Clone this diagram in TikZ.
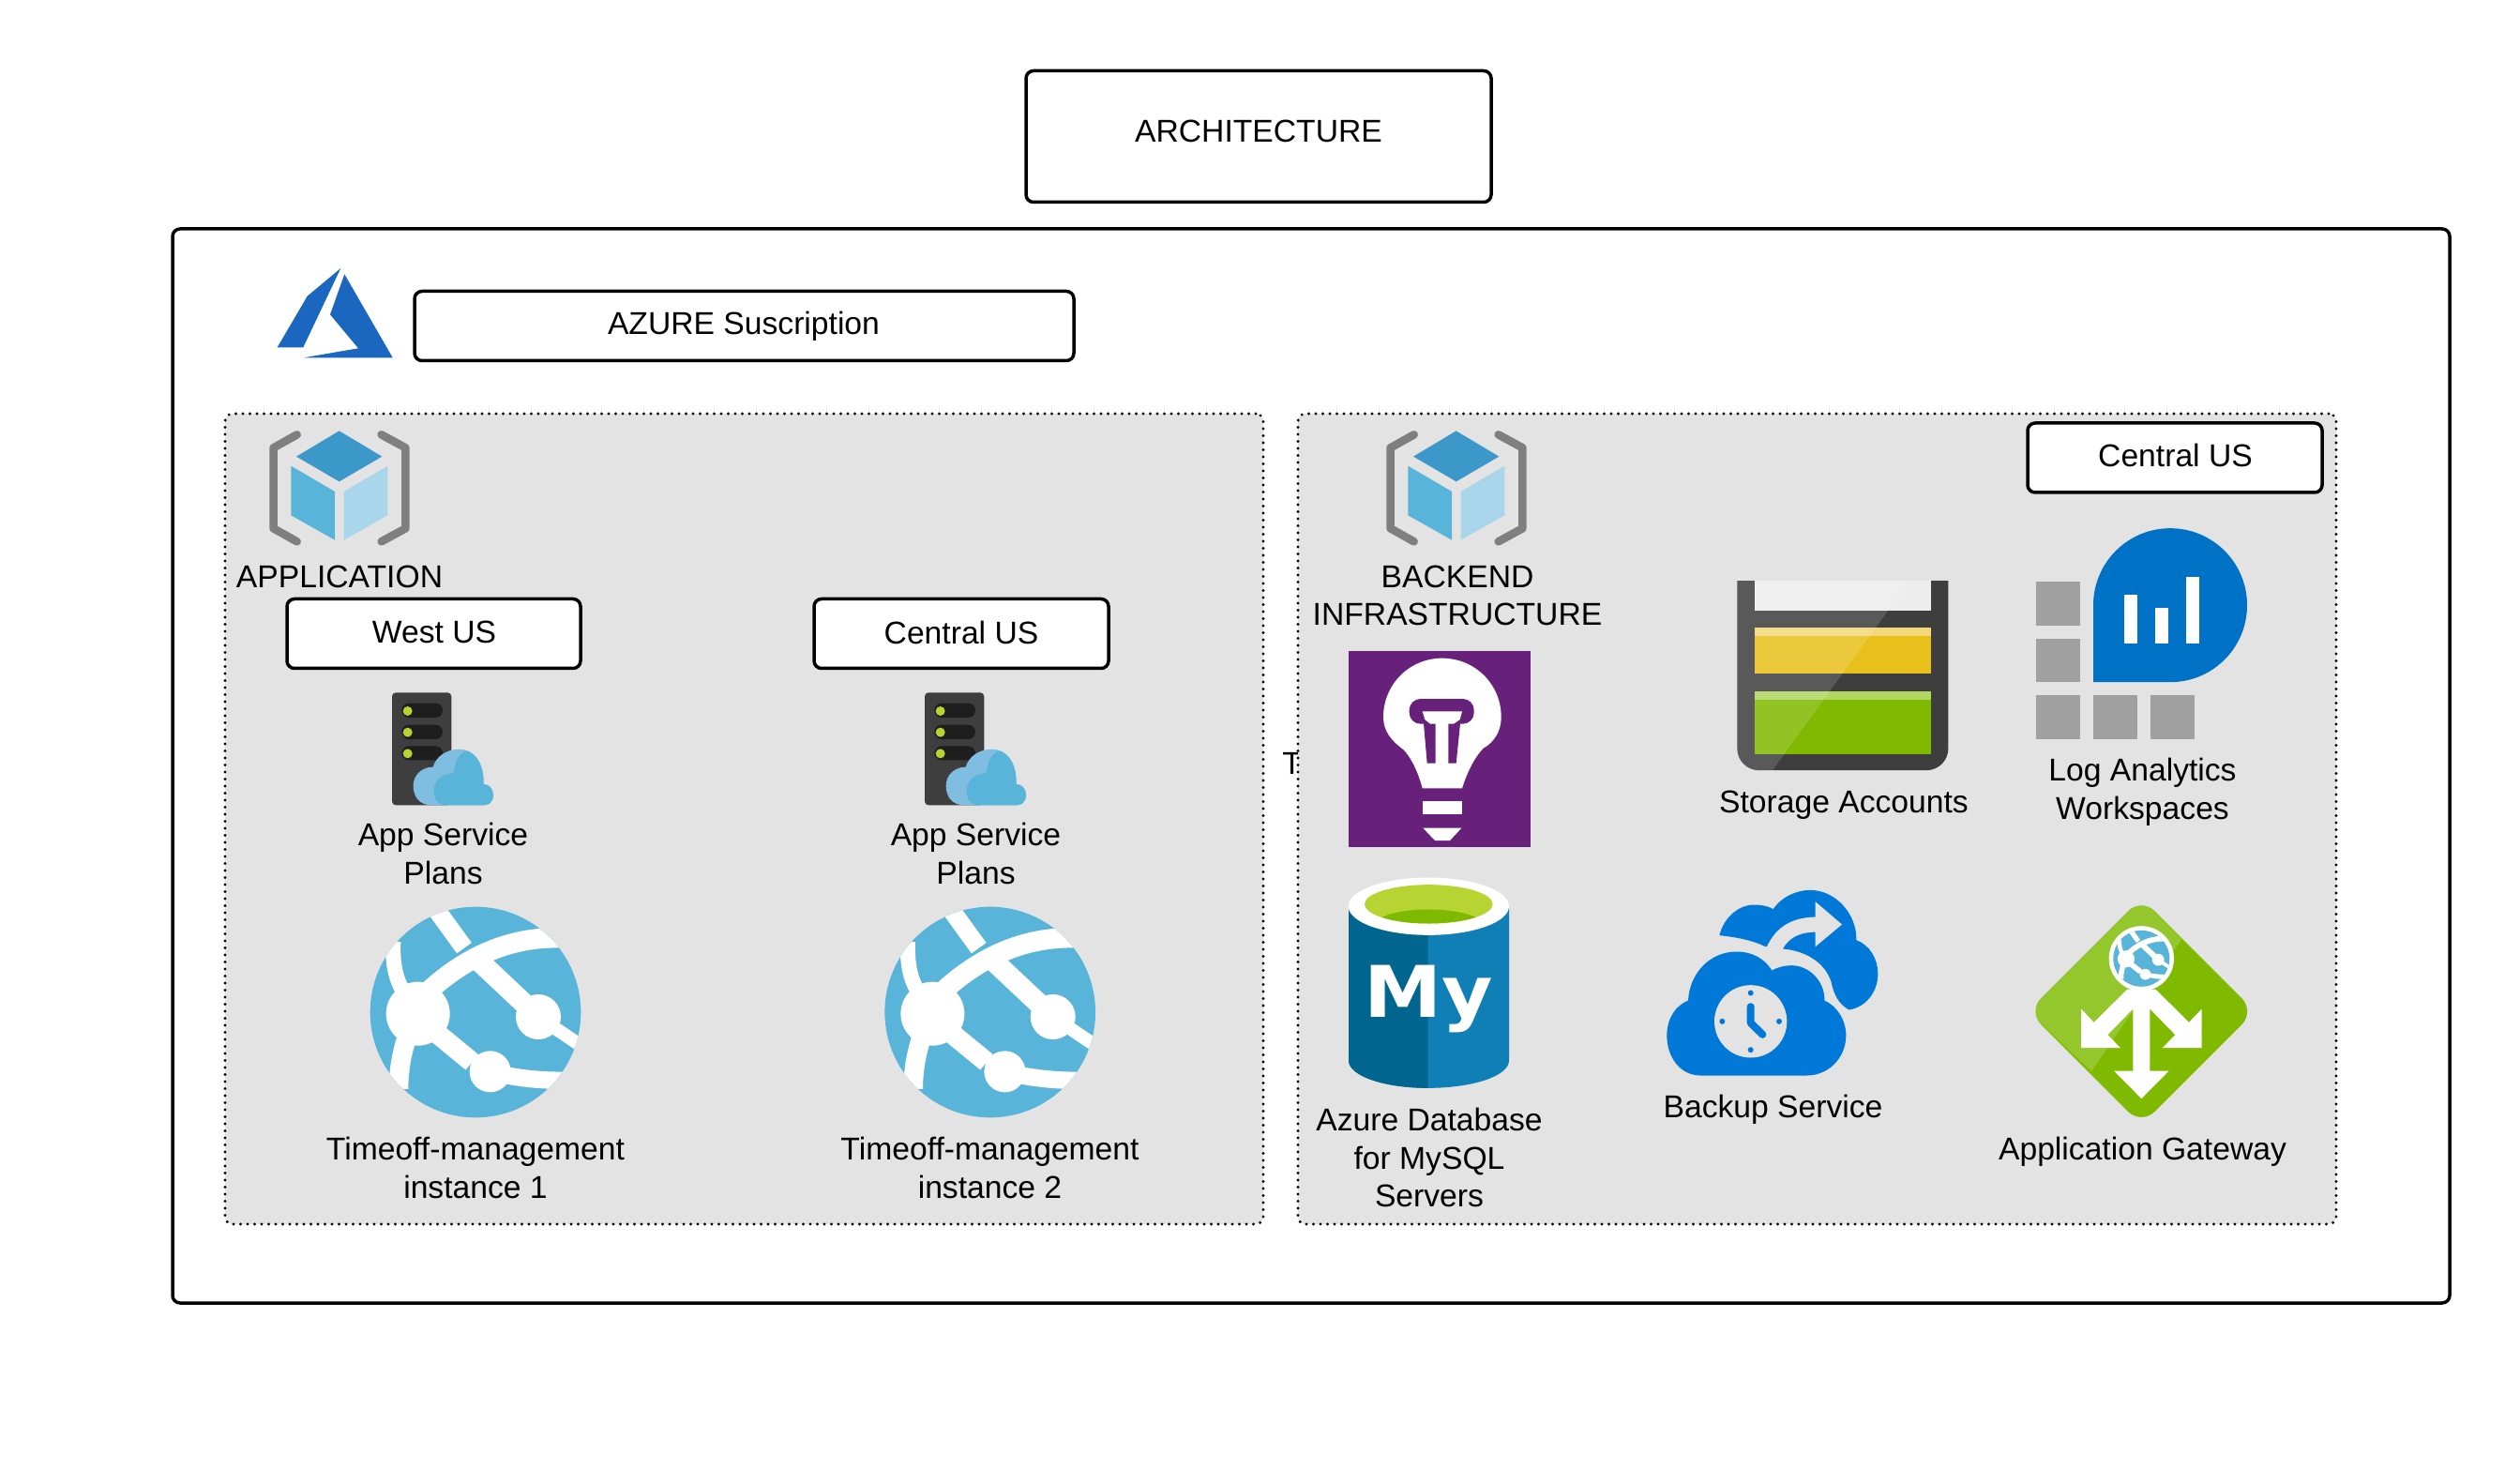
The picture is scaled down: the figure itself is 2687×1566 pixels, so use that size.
\documentclass[tikz,border=0pt]{standalone}
\usepackage{fontspec}
\setmainfont{Liberation Sans}
\newfontfamily\iconfont[FakeStretch=1.1]{DejaVu Sans}
\definecolor{panelgray}{HTML}{E3E3E3}
\definecolor{azblue}{HTML}{1B66BE}
\definecolor{brack}{HTML}{7F7F7F}
\definecolor{cubetop}{HTML}{3C98C8}
\definecolor{cubeleft}{HTML}{59B4D9}
\definecolor{cuberight}{HTML}{A9D6EB}
\definecolor{srv}{HTML}{3E3E3E}
\definecolor{srvslot}{HTML}{1E1E1E}
\definecolor{lime}{HTML}{B8D432}
\definecolor{cloudlight}{HTML}{7FBEE0}
\definecolor{purplebg}{HTML}{68217A}
\definecolor{stgyellow}{HTML}{E8C01C}
\definecolor{stgyellowl}{HTML}{F3D878}
\definecolor{stggreen}{HTML}{7FBA00}
\definecolor{stggreenl}{HTML}{B0D860}
\definecolor{stgwhite}{HTML}{EDEDED}
\definecolor{loggray}{HTML}{A0A0A0}
\definecolor{logblue}{HTML}{0072C6}
\definecolor{mydark}{HTML}{00658F}
\definecolor{myright}{HTML}{0F7FB5}
\definecolor{bkblue}{HTML}{0078D7}
\definecolor{gwlight}{HTML}{94C72C}
\tikzset{
  txt/.style={font=\fontsize{16.83}{20.3}\selectfont, align=center, inner sep=0pt, text=black},
  labelbox/.style={draw=black, line width=1.75pt, rounded corners=4pt, fill=white, outer sep=0pt},
  panel/.style={draw=black, fill=panelgray, line width=1.6pt, line cap=round, dash pattern=on 0pt off 3.75pt, rounded corners=4pt, outer sep=0pt},
  zoomunits/.style={x=0.16667pt,y=-0.16667pt}
}
\newcommand{\ContainerIcon}[2]{%
\begin{scope}[shift={(#1,#2)},zoomunits]
  \draw[brack,line width=4.3pt,line cap=round,line join=round] (410,700) -- (335,742) -- (335,1000) -- (410,1042);
  \draw[brack,line width=4.3pt,line cap=round,line join=round] (680,700) -- (757,742) -- (757,1000) -- (680,1042);
  \fill[cubetop] (545,688) -- (682,770) -- (545,850) -- (408,770) -- cycle;
  \fill[cubeleft] (391,800) -- (531,882) -- (531,1037) -- (391,958) -- cycle;
  \fill[cuberight] (560,882) -- (700,800) -- (700,958) -- (560,1037) -- cycle;
\end{scope}}
\newcommand{\PlanIcon}[2]{%
\begin{scope}[shift={(#1,#2)},zoomunits]
  \fill[srv,rounded corners=2pt] (174,52) rectangle (364,412);
  \fill[srvslot,rounded corners=3.8pt] (205,86) rectangle (336,132);
  \fill[srvslot,rounded corners=3.8pt] (205,155) rectangle (336,201);
  \fill[srvslot,rounded corners=3.8pt] (205,223) rectangle (336,268);
  \fill[lime] (224,111) circle (15);
  \fill[lime] (224,179) circle (15);
  \fill[lime] (224,247) circle (15);
  \fill[cloudlight] (300,412) .. controls (262,412) and (242,385) .. (242,350) .. controls (242,315) and (270,290) .. (305,290) .. controls (315,255) and (350,233) .. (390,233) .. controls (435,233) and (468,275) .. (467,345) .. controls (485,345) and (498,360) .. (498,380) .. controls (498,398) and (485,412) .. (470,412) -- cycle;
  \fill[cubeleft] (345,412) .. controls (320,412) and (308,390) .. (308,368) .. controls (308,330) and (340,308) .. (372,310) .. controls (372,280) and (385,250) .. (410,238) .. controls (445,245) and (468,285) .. (467,345) .. controls (485,345) and (498,360) .. (498,380) .. controls (498,398) and (485,412) .. (470,412) -- cycle;
\end{scope}}
% #1,#2 centre in picture pixels, #3 unit length
\newcommand{\GlobeIcon}[3]{%
\begin{scope}[shift={(#1,#2)},x=#3,y=-#3,shift={(-441,-1075)}]
  \fill[cubeleft] (441,1075) circle (337);
  \begin{scope}
    \clip (441,1075) circle (337);
    \draw[white,line width=#3*58] (318,750) -- (405,870);
    \draw[white,line width=#3*66] (440,900) -- (642,1090);
    \draw[white,line width=#3*42] (642,1090) -- (790,1190);
    \draw[white,line width=#3*64] (730,838) .. controls (570,830) and (410,885) .. (257,1040);
    \draw[white,line width=#3*48] (178,850) .. controls (175,920) and (185,980) .. (225,1030);
    \draw[white,line width=#3*62] (235,1120) .. controls (210,1180) and (195,1250) .. (195,1320);
    \draw[white,line width=#3*64] (290,1120) -- (430,1235);
    \draw[white,line width=#3*55] (488,1265) .. controls (560,1285) and (650,1295) .. (740,1293);
    \fill[white] (257,1080) circle (102);
    \fill[white] (642,1090) circle (72);
    \fill[white] (488,1265) circle (66);
  \end{scope}
\end{scope}}
\begin{document}
\begin{tikzpicture}[x=0.5pt,y=-0.5pt]
\useasboundingbox (0,0) rectangle (2687,1566);
\fill[white] (0,0) rectangle (2687,1566);

% outer frames
\node[labelbox,minimum width=248pt,minimum height=70pt,anchor=north west] (archbox) at (1094,75.5) {};
\node[txt] (archtxt) at (1342,140) {ARCHITECTURE};
\node[labelbox,minimum width=1214pt,minimum height=572.5pt,anchor=north west] (outer) at (184,244) {};

% azure logo
\fill[azblue] (363.3,286) -- (327.7,315.7) -- (295.7,370.3) -- (323.3,370.3) -- cycle;
\fill[azblue] (367.3,292.3) -- (352,335.3) -- (382,371.3) -- (324,381.3) -- (418.7,381.3) -- cycle;
\node[labelbox,minimum width=351.5pt,minimum height=37pt,anchor=north west] (subbox) at (442,310.5) {};
\node[txt] (subtxt) at (793,347.6) {AZURE Suscription};

% the clipped letter behind the right panel
\node[txt,anchor=base west] (tfrag) at (1367,825) {T};

% panels
\node[panel,minimum width=553.5pt,minimum height=432pt,anchor=north west] (panelA) at (240,441) {};
\node[panel,minimum width=553.5pt,minimum height=432pt,anchor=north west] (panelB) at (1384,441) {};

% left panel
\ContainerIcon{180}{230}
\node[txt] (apptxt) at (362,615) {APPLICATION};
\node[labelbox,minimum width=156.5pt,minimum height=37pt,anchor=north west] (westbox) at (306,638.5) {};
\node[txt] (westtxt) at (463,674) {West US};
\node[labelbox,minimum width=157pt,minimum height=37pt,anchor=north west] (centralA) at (868,638.5) {};
\node[txt] (centralAtxt) at (1025,674) {Central US};
\PlanIcon{360}{721}
\PlanIcon{928}{721}
\node[txt] (planA) at (472.5,910) {App Service\\Plans};
\node[txt] (planB) at (1040.5,910) {App Service\\Plans};
\GlobeIcon{507}{1079}{0.16667pt}
\GlobeIcon{1055.7}{1079}{0.16667pt}
\node[txt] (instA) at (507,1245) {Timeoff-management\\instance 1};
\node[txt] (instB) at (1055.5,1245) {Timeoff-management\\instance 2};

% right panel
\ContainerIcon{1371}{230}
\node[txt] (backtxt) at (1554,635) {BACKEND\\INFRASTRUCTURE};
\node[labelbox,minimum width=157pt,minimum height=37pt,anchor=north west] (centralB) at (2162,451) {};
\node[txt] (centralBtxt) at (2319.5,485) {Central US};

% light bulb
\begin{scope}[shift={(1360,431)},zoomunits]
  \fill[purplebg] (234,789) rectangle (816,1416);
  \fill[white] (470,1228) .. controls (455,1170) and (430,1125) .. (410,1105) .. controls (370,1075) and (345,1045) .. (345,1000) .. controls (345,895) and (430,812) .. (533,812) .. controls (637,812) and (722,895) .. (722,1000) .. controls (722,1045) and (700,1080) .. (665,1100) .. controls (640,1125) and (615,1170) .. (597,1228) -- cycle;
  \fill[purplebg,rounded corners=6pt] (428,942) rectangle (635,1022);
  \fill[purplebg] (473,1010) -- (512,1010) -- (512,1148) -- (485,1148) -- cycle;
  \fill[purplebg] (553,1010) -- (592,1010) -- (578,1148) -- (553,1148) -- cycle;
  \fill[white] (470,982) -- (597,982) -- (590,1008) -- (570,1022) -- (495,1022) -- (478,1008) -- cycle;
  \fill[white] (512,1015) rectangle (553,1060);
  \fill[white] (472,1270) rectangle (597,1312);
  \fill[white] (472,1355) -- (595,1355) -- (558,1395) -- (510,1395) -- cycle;
\end{scope}

% storage
\begin{scope}[shift={(1780,560.5)},zoomunits]
  \fill[srv] (217,176) -- (892,176) -- (892,712) .. controls (892,751) and (861,782) .. (822,782) -- (287,782) .. controls (248,782) and (217,751) .. (217,712) -- cycle;
  \fill[stgwhite] (272,176) rectangle (838,270);
  \fill[stgyellow] (272,325) rectangle (838,473);
  \fill[stgyellowl] (272,325) rectangle (838,352);
  \fill[stggreen] (272,528) rectangle (838,730);
  \fill[stggreenl] (272,528) rectangle (838,555);
  \begin{scope}
    \clip (217,176) -- (892,176) -- (892,712) .. controls (892,751) and (861,782) .. (822,782) -- (287,782) .. controls (248,782) and (217,751) .. (217,712) -- cycle;
    \fill[white,opacity=0.14] (217,176) -- (768,176) -- (330,782) -- (217,782) -- cycle;
  \end{scope}
\end{scope}
\node[txt] (stgtxt) at (1966,858.4) {Storage Accounts};

% log analytics
\begin{scope}[shift={(2140,540.5)},zoomunits]
  \fill[loggray] (93,237) rectangle (234,378);
  \fill[loggray] (93,420) rectangle (234,560);
  \fill[loggray] (93,602) rectangle (234,742);
  \fill[loggray] (276,602) rectangle (417,742);
  \fill[loggray] (459,602) rectangle (600,742);
  \fill[logblue] (276,314) .. controls (276,178) and (386,68) .. (522,68) .. controls (658,68) and (768,178) .. (768,314) .. controls (768,450) and (658,560) .. (522,560) -- (276,560) -- cycle;
  \fill[white] (375,279) rectangle (417,435);
  \fill[white] (474,321) rectangle (516,435);
  \fill[white] (573,222) rectangle (615,435);
\end{scope}
\node[txt] (logtxt) at (2284.5,844) {Log Analytics\\Workspaces};

% mysql
\begin{scope}[shift={(1400,920.5)},zoomunits]
  \fill[myright] (114,140) -- (627,140) -- (627,630) .. controls (627,680) and (510,718) .. (368,718) .. controls (230,718) and (114,680) .. (114,630) -- cycle;
  \fill[mydark] (114,140) -- (368,140) -- (368,718) .. controls (230,718) and (114,680) .. (114,630) -- cycle;
  \fill[white] (370,137) ellipse [x radius=257,y radius=92];
  \fill[lime] (370,130) ellipse [x radius=205,y radius=62];
  \begin{scope}
    \clip (370,130) ellipse [x radius=205,y radius=62];
    \fill[stggreen] (370,195) ellipse [x radius=170,y radius=48];
  \end{scope}
  \node[anchor=base,inner sep=0pt,text=white,font=\iconfont\bfseries\fontsize{38}{38}\selectfont] (mytxt) at (370,492) {My};
\end{scope}
\node[txt] (mysqltxt) at (1524,1234) {Azure Database\\for MySQL\\Servers};

% backup
\begin{scope}[shift={(1760,930.5)},zoomunits]
  \fill[bkblue] (220,200) .. controls (235,140) and (285,100) .. (335,102) .. controls (360,103) and (380,108) .. (392,116) .. controls (420,75) and (470,55) .. (510,55) .. controls (590,55) and (660,130) .. (658,215) .. controls (700,230) and (727,275) .. (727,322) .. controls (727,385) and (685,430) .. (635,438) .. controls (600,420) and (585,385) .. (578,350) .. controls (560,290) and (500,250) .. (425,243) -- (365,235) .. controls (325,215) and (270,205) .. (220,200) -- cycle;
  \draw[panelgray,line width=8pt] (392,250) .. controls (420,185) and (470,165) .. (535,165);
  \fill[panelgray] (527,92) -- (612,165) -- (527,236) -- cycle;
  \fill[bkblue] (160,648) .. controls (95,648) and (52,590) .. (52,520) .. controls (52,465) and (80,425) .. (120,408) .. controls (125,320) and (190,252) .. (275,252) .. controls (325,252) and (365,275) .. (388,312) .. controls (410,300) and (435,296) .. (450,296) .. controls (510,296) and (558,350) .. (556,408) .. controls (595,425) and (625,470) .. (625,520) .. controls (625,590) and (570,648) .. (500,648) -- cycle;
  \fill[panelgray] (320,475) circle (116);
  \fill[bkblue] (320,384) circle (9);
  \fill[bkblue] (320,566) circle (9);
  \fill[bkblue] (229,475) circle (9);
  \fill[bkblue] (411,475) circle (9);
  \draw[bkblue,line width=4pt,line cap=round,line join=round] (320,428) -- (320,480) -- (358,517);
\end{scope}
\node[txt] (bktxt) at (1890.5,1183) {Backup Service};

% gateway
\begin{scope}[shift={(2150,950.5)},zoomunits]
  \fill[stggreen,rounded corners=10pt] (400,20) -- (763,383) -- (400,746) -- (37,383) -- cycle;
  \begin{scope}
    \clip[rounded corners=10pt] (400,20) -- (763,383) -- (400,746) -- (37,383) -- cycle;
    \fill[gwlight] (400,20) -- (530,150) -- (240,575) -- (37,383) -- cycle;
  \end{scope}
  \fill[white] (355,312) -- (445,312) -- (552,418) -- (593,375) -- (593,500) -- (467,500) -- (508,458) -- (427,375) -- (427,573) -- (488,573) -- (400,662) -- (312,573) -- (373,573) -- (373,375) -- (292,458) -- (333,500) -- (207,500) -- (207,375) -- (248,418) -- cycle;
  \fill[white] (400,214) circle (104);
\end{scope}
\GlobeIcon{2283.3}{1021.8}{0.0445pt}
\node[txt] (gwtxt) at (2284.5,1227.4) {Application Gateway};
\end{tikzpicture}
\end{document}
